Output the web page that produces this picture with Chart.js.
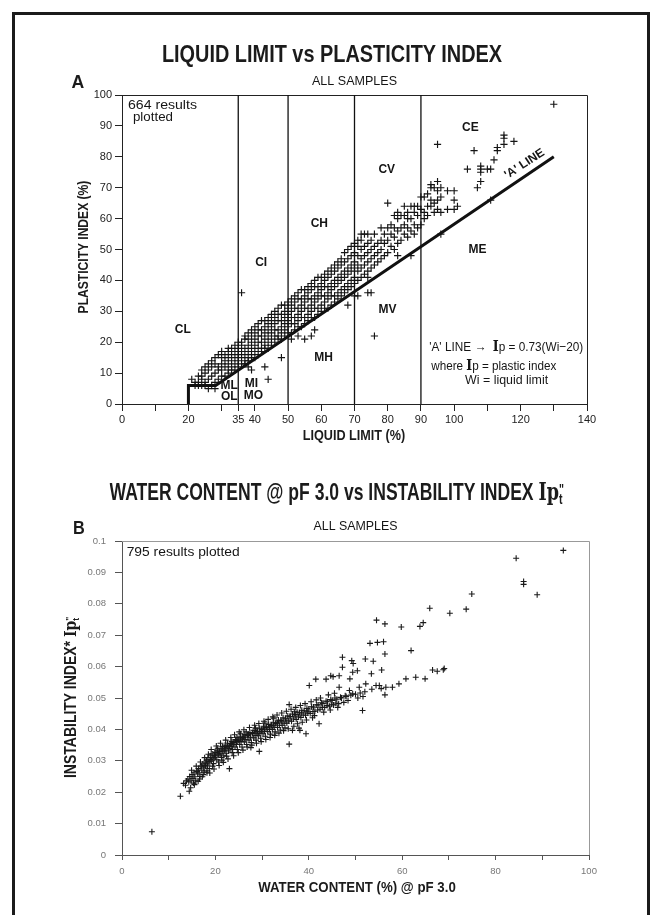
<!DOCTYPE html>
<html>
<head>
<meta charset="utf-8">
<script src="https://cdn.jsdelivr.net/npm/chart.js@4.4.1/dist/chart.umd.min.js"></script>
<style>
body { margin: 0; background: #fff; }
#page { position: relative; width: 655px; height: 915px; overflow: hidden; background: #fff; }
#frame { position: absolute; left: 12px; top: 12px; width: 632px; height: 940px; border: 3px solid #1b1b1b; border-bottom: none; }
canvas { position: absolute; left: 0; }
.t { position: absolute; left: 0; top: 0; white-space: nowrap; font-family: 'Liberation Sans', Arial, sans-serif; font-weight: bold; color: #1b1b1b; line-height: 1; }
.ser { font-family: 'DejaVu Serif', 'Liberation Serif', serif; }
.sup { display: inline-block; width: 0; position: relative; top: -0.45em; font-size: 0.6em; }
.sub { position: relative; top: 0.3em; font-size: 0.6em; }
</style>
</head>
<body>
<div id="page">
  <div id="frame"></div>
  <canvas id="chartA" width="655" height="460" style="top:0px"></canvas>
  <canvas id="chartB" width="655" height="455" style="top:460px"></canvas>
  <div class="t" id="titleA" style="font-size:24px">LIQUID LIMIT vs PLASTICITY INDEX</div>
  <div class="t" id="labA" style="font-size:19px">A</div>
  <div class="t" id="xTitleA" style="font-size:14px">LIQUID LIMIT (%)</div>
  <div class="t" id="yTitleA" style="font-size:15px">PLASTICITY INDEX (%)</div>
  <div class="t" id="titleB" style="font-size:24px">WATER CONTENT @ pF 3.0 vs INSTABILITY INDEX <span class="ser">Ip</span><span class="sup">"</span><span class="sub">t</span></div>
  <div class="t" id="labB" style="font-size:19px">B</div>
  <div class="t" id="xTitleB" style="font-size:15px">WATER CONTENT (%) @ pF 3.0</div>
  <div class="t" id="yTitleB" style="font-size:16px">INSTABILITY INDEX* <span class="ser">Ip</span><span class="sup">"</span><span class="sub">t</span></div>
</div>
<script>
// ---- chart A data : liquid limit (%) vs plasticity index (%)
const xTicksA = [0, 10, 20, 30, 35, 40, 50, 60, 70, 80, 90, 100, 110, 120, 130, 140];
const xTickLabelsA = ['0', '', '20', '', '35', '40', '50', '60', '70', '80', '90', '100', '', '120', '', '140'];
const yTicksA = [0, 10, 20, 30, 40, 50, 60, 70, 80, 90, 100];
const yTickLabelsA = ['0', '10', '20', '30', '40', '50', '60', '70', '80', '90', '100'];
// zone boundaries (liquid limit) and the 'A' line (Ip = 0.73(Wi-20)) with its foot at Wi=20
const zoneBoundsA = [35, 50, 70, 90];
const aLineLL = [20, 20, 28.2, 130];
const aLinePI = [0, 6, 6, 80];
// [liquid limit, plasticity index] for the plotted samples
const pointsA = [
  [21,8],[22,6],[22,7],[23,6],[23,7],[23,9],[24,6],[24,8],[24,9],[24,11],
  [25,6],[25,7],[25,10],[25,12],[26,5],[26,8],[26,11],[26,13],[27,6],[27,9],[27,12],[27,14],
  [28,5],[28,7],[28,10],[28,13],[28,15],[29,8],[29,11],[29,12],[29,16],
  [30,9],[30,11],[30,13],[30,15],[30,17],[31,9],[31,12],[31,14],[31,16],
  [32,10],[32,11],[32,13],[32,15],[32,17],[32,18],[33,11],[33,12],[33,14],[33,16],[33,18],
  [34,11],[34,13],[34,15],[34,17],[34,19],[35,12],[35,14],[35,16],[35,18],[35,20],
  [36,13],[36,15],[36,17],[36,19],[36,20],[36,36],[37,13],[37,14],[37,16],[37,18],[37,21],[37,22],
  [38,12],[38,14],[38,15],[38,17],[38,19],[38,21],[38,23],[39,11],[39,15],[39,16],[39,18],[39,20],[39,22],[39,24],
  [40,15],[40,17],[40,19],[40,21],[40,23],[40,25],[41,16],[41,18],[41,20],[41,22],[41,24],[41,26],
  [42,17],[42,18],[42,20],[42,22],[42,24],[42,27],[43,12],[43,18],[43,19],[43,21],[43,23],[43,25],[43,27],
  [44,8],[44,18],[44,20],[44,22],[44,24],[44,26],[44,28],[45,19],[45,21],[45,23],[45,25],[45,27],[45,29],
  [46,20],[46,22],[46,24],[46,26],[46,28],[46,30],[47,21],[47,22],[47,24],[47,27],[47,29],[47,31],
  [48,15],[48,21],[48,23],[48,25],[48,27],[48,29],[48,32],[49,22],[49,24],[49,26],[49,28],[49,30],[49,32],
  [50,23],[50,25],[50,27],[50,29],[50,31],[50,33],[51,21],[51,23],[51,26],[51,28],[51,30],[51,32],[51,34],
  [52,24],[52,26],[52,28],[52,31],[52,33],[52,35],[53,22],[53,25],[53,27],[53,29],[53,31],[53,34],[53,36],
  [54,25],[54,28],[54,30],[54,32],[54,34],[54,37],[55,21],[55,26],[55,28],[55,31],[55,33],[55,35],[55,37],
  [56,27],[56,29],[56,31],[56,34],[56,36],[56,38],[57,22],[57,28],[57,30],[57,32],[57,34],[57,37],[57,39],
  [58,24],[58,28],[58,31],[58,33],[58,35],[58,38],[58,40],[59,29],[59,31],[59,34],[59,36],[59,38],[59,41],
  [60,30],[60,32],[60,35],[60,37],[60,39],[60,41],[61,31],[61,33],[61,35],[61,38],[61,40],[61,42],
  [62,31],[62,34],[62,36],[62,38],[62,41],[62,43],[63,32],[63,35],[63,37],[63,39],[63,42],[63,44],
  [64,33],[64,35],[64,38],[64,40],[64,43],[64,45],[65,34],[65,36],[65,39],[65,41],[65,44],[65,46],
  [66,35],[66,37],[66,40],[66,42],[66,45],[66,47],[67,36],[67,38],[67,41],[67,43],[67,46],[67,49],
  [68,32],[68,37],[68,39],[68,42],[68,44],[68,47],[68,50],[69,38],[69,40],[69,43],[69,45],[69,48],[69,51],
  [70,35],[70,39],[70,41],[70,44],[70,46],[70,49],[70,52],[71,35],[71,40],[71,43],[71,45],[71,48],[71,51],[71,53],
  [72,41],[72,44],[72,47],[72,50],[72,53],[72,55],[73,42],[73,45],[73,48],[73,51],[73,55],
  [74,36],[74,41],[74,43],[74,46],[74,49],[74,52],[74,55],[75,36],[75,44],[75,47],[75,50],[75,53],
  [76,22],[76,45],[76,48],[76,51],[76,55],[77,46],[77,49],[77,52],[78,47],[78,50],[78,53],[78,57],
  [79,48],[79,52],[79,55],[80,49],[80,53],[80,57],[80,65],[81,51],[81,55],[81,58],
  [82,50],[82,54],[82,57],[82,61],[83,48],[83,52],[83,56],[83,60],[83,62],[84,53],[84,57],[84,61],
  [85,55],[85,58],[85,61],[85,64],[86,54],[86,57],[86,60],[86,62],[87,48],[87,56],[87,60],[87,64],
  [88,55],[88,58],[88,62],[88,64],[89,57],[89,61],[89,64],[90,58],[90,63],[90,67],[91,60],[91,62],[91,67],
  [92,61],[92,64],[92,68],[93,64],[93,66],[93,70],[93,71],[94,62],[94,65],[94,70],
  [95,63],[95,66],[95,69],[95,72],[95,84],[96,55],[96,62],[96,67],[96,70],[98,63],[98,69],
  [100,63],[100,66],[100,69],[101,64],[104,76],[106,82],[107,70],[108,72],[108,75],[108,76],[108,77],
  [110,76],[111,66],[111,76],[112,79],[113,82],[113,83],[115,84],[115,86],[115,87],[118,85],[130,97]
];

// ---- chart B data : water content (%) @ pF 3.0 vs instability index
const xTicksB = [0, 10, 20, 30, 40, 50, 60, 70, 80, 90, 100];
const xTickLabelsB = ['0', '', '20', '', '40', '', '60', '', '80', '', '100'];
const yTicksB = [0, 0.01, 0.02, 0.03, 0.04, 0.05, 0.06, 0.07, 0.08, 0.09, 0.1];
const yTickLabelsB = ['0', '0.01', '0.02', '0.03', '0.04', '0.05', '0.06', '0.07', '0.08', '0.09', '0.1'];
// [water content, instability index]
const pointsB = [
  [6.4,0.0074],[12.5,0.0187],[13.2,0.0228],[13.6,0.0222],[13.8,0.0236],
  [14.1,0.0242],[14.3,0.0233],[14.5,0.0250],[14.7,0.0214],[14.8,0.0238],[14.4,0.0203],
  [15.0,0.0256],[15.2,0.0244],[15.4,0.0262],[15.6,0.0249],[15.8,0.0236],[15.3,0.0229],
  [16.0,0.0268],[16.2,0.0258],[16.4,0.0275],[16.5,0.0262],[16.7,0.0250],[16.9,0.0281],[16.6,0.0242],
  [17.0,0.0284],[17.1,0.0270],[17.3,0.0290],[17.5,0.0277],[17.6,0.0264],[17.8,0.0296],[17.9,0.0283],[17.4,0.0256],
  [18.0,0.0292],[18.1,0.0302],[18.3,0.0286],[18.4,0.0310],[18.6,0.0296],[18.7,0.0275],[18.9,0.0304],[18.2,0.0268],
  [19.0,0.0316],[19.2,0.0300],[19.3,0.0322],[19.5,0.0309],[19.6,0.0291],[19.8,0.0318],[19.9,0.0328],[19.4,0.0283],
  [20.0,0.0312],[20.1,0.0326],[20.3,0.0303],[20.4,0.0334],[20.6,0.0318],[20.7,0.0296],[20.9,0.0330],[20.5,0.0340],
  [21.0,0.0322],[21.2,0.0338],[21.3,0.0311],[21.5,0.0345],[21.6,0.0329],[21.8,0.0316],[21.9,0.0341],[21.4,0.0302],
  [22.0,0.0334],[22.1,0.0350],[22.3,0.0324],[22.5,0.0343],[22.6,0.0356],[22.8,0.0331],[22.9,0.0346],[22.4,0.0315],
  [23.0,0.0275],[23.1,0.0339],[23.2,0.0355],[23.4,0.0346],[23.5,0.0362],[23.7,0.0336],[23.8,0.0352],[23.6,0.0326],
  [24.0,0.0358],[24.2,0.0344],[24.3,0.0368],[24.5,0.0352],[24.7,0.0336],[24.8,0.0362],[24.6,0.0374],
  [25.0,0.0366],[25.2,0.0352],[25.3,0.0378],[25.5,0.0361],[25.7,0.0344],[25.8,0.0372],[25.4,0.0386],
  [26.0,0.0374],[26.2,0.0360],[26.3,0.0384],[26.5,0.0368],[26.7,0.0352],[26.9,0.0380],[26.6,0.0392],
  [27.0,0.0381],[27.2,0.0366],[27.4,0.0390],[27.5,0.0375],[27.7,0.0358],[27.9,0.0387],[27.6,0.0342],
  [28.0,0.0388],[28.2,0.0373],[28.3,0.0397],[28.5,0.0381],[28.7,0.0366],[28.9,0.0393],[28.6,0.0404],
  [29.0,0.0394],[29.2,0.0380],[29.4,0.0404],[29.5,0.0388],[29.7,0.0372],[29.9,0.0399],[29.4,0.0330],
  [30.0,0.0400],[30.2,0.0386],[30.3,0.0410],[30.5,0.0394],[30.7,0.0378],[30.9,0.0406],[30.6,0.0420],
  [31.0,0.0407],[31.2,0.0393],[31.4,0.0416],[31.6,0.0400],[31.8,0.0385],[31.9,0.0412],
  [32.0,0.0414],[32.2,0.0400],[32.4,0.0423],[32.6,0.0407],[32.8,0.0392],[32.9,0.0419],[32.5,0.0436],
  [33.0,0.0421],[33.3,0.0406],[33.5,0.0430],[33.7,0.0413],[33.9,0.0398],
  [34.0,0.0428],[34.3,0.0413],[34.5,0.0437],[34.7,0.0420],[34.9,0.0405],
  [35.0,0.0434],[35.3,0.0420],[35.5,0.0443],[35.7,0.0427],[35.8,0.0353],[35.8,0.0479],
  [36.0,0.0441],[36.3,0.0426],[36.5,0.0449],[36.7,0.0433],[36.5,0.0397],[36.9,0.0456],
  [37.0,0.0447],[37.3,0.0432],[37.5,0.0455],[37.8,0.0440],[37.9,0.0404],
  [38.0,0.0453],[38.3,0.0438],[38.5,0.0461],[38.8,0.0446],[38.1,0.0397],
  [39.0,0.0459],[39.3,0.0445],[39.4,0.0386],[39.6,0.0467],[39.8,0.0452],
  [40.0,0.0465],[40.3,0.0451],[40.1,0.0540],[40.6,0.0472],[40.9,0.0457],
  [41.0,0.0471],[41.3,0.0458],[41.5,0.0560],[41.7,0.0478],[41.9,0.0462],
  [42.0,0.0478],[42.2,0.0418],[42.4,0.0464],[42.7,0.0485],[42.9,0.0470],
  [43.0,0.0483],[43.4,0.0470],[43.7,0.0560],[43.7,0.0490],[43.9,0.0476],
  [44.0,0.0488],[44.4,0.0474],[44.7,0.0571],[44.7,0.0495],[44.9,0.0480],
  [45.0,0.0492],[45.3,0.0478],[45.6,0.0500],[45.8,0.0484],[45.2,0.0568],
  [46.0,0.0496],[46.4,0.0482],[46.5,0.0534],[46.5,0.0571],[46.8,0.0502],
  [47.0,0.0500],[47.2,0.0630],[47.2,0.0598],[47.5,0.0486],[47.8,0.0507],
  [48.0,0.0505],[48.4,0.0492],[48.7,0.0524],[48.8,0.0561],
  [49.0,0.0509],[49.2,0.0619],[49.4,0.0582],[49.5,0.0610],[49.4,0.0513],
  [50.0,0.0512],[50.4,0.0587],[50.5,0.0500],[50.8,0.0534],
  [51.0,0.0516],[51.5,0.0460],[51.6,0.0505],[52.1,0.0624],[52.2,0.0545],[52.0,0.0520],
  [53.1,0.0674],[53.4,0.0577],[53.8,0.0617],[53.5,0.0528],[54.4,0.0540],[54.5,0.0748],[54.7,0.0677],
  [55.6,0.0589],[55.1,0.0540],[55.5,0.0530],[56.0,0.0679],[56.3,0.0736],[56.3,0.0640],[56.3,0.0510],[56.5,0.0534],
  [57.9,0.0534],[59.3,0.0545],[59.8,0.0726],[60.8,0.0561],[61.9,0.0651],[62.9,0.0566],[63.8,0.0728],
  [64.5,0.0740],[64.9,0.0561],[65.9,0.0786],[66.5,0.0589],[67.5,0.0585],[69.0,0.0594],[68.8,0.0590],
  [70.2,0.0770],[73.7,0.0783],[74.9,0.0831],[84.4,0.0945],[86.0,0.0871],[86.0,0.0862],[88.9,0.0829],[94.5,0.0970],
  // edges and middle of the dense band
  [14.9,0.0270],[15.5,0.0224],[15.9,0.0283],[16.3,0.0235],[16.8,0.0296],[17.2,0.0249],[17.7,0.0310],[18.2,0.0262],
  [18.5,0.0321],[18.8,0.0261],[19.1,0.0336],[19.7,0.0274],[20.2,0.0347],[20.8,0.0285],[21.1,0.0356],[21.7,0.0295],
  [22.2,0.0366],[22.7,0.0306],[23.3,0.0374],[23.9,0.0316],[24.1,0.0383],[24.9,0.0326],[25.1,0.0392],[25.9,0.0334],
  [26.1,0.0399],[26.8,0.0344],[27.3,0.0406],[27.8,0.0350],[28.4,0.0413],[28.8,0.0356],[29.3,0.0419],[29.8,0.0361],
  [30.4,0.0426],[30.8,0.0368],[31.3,0.0432],[31.7,0.0374],[32.3,0.0440],[32.7,0.0381],[33.2,0.0446],[33.6,0.0388],
  [34.2,0.0452],[34.6,0.0396],[35.2,0.0458],[35.6,0.0402],[36.2,0.0464],[36.8,0.0410],[37.2,0.0470],[37.6,0.0418],
  [38.2,0.0476],[38.6,0.0423],[39.2,0.0482],[39.5,0.0430],[40.5,0.0488],[40.8,0.0437],[41.6,0.0494],[41.2,0.0444],
  [42.5,0.0500],[43.2,0.0455],[44.2,0.0510],[44.6,0.0462],[45.5,0.0515],[46.2,0.0470],
  [16.1,0.0266],[17.6,0.0285],[18.8,0.0298],[19.7,0.0310],[20.6,0.0322],[21.4,0.0331],[22.2,0.0340],[23.0,0.0348],
  [23.8,0.0357],[24.6,0.0364],[25.4,0.0369],[26.3,0.0376],[27.1,0.0384],[28.0,0.0390],[28.9,0.0386],[29.8,0.0393],
  [30.6,0.0401],[31.5,0.0408],[32.4,0.0413],[33.3,0.0420],[34.2,0.0426],[35.1,0.0433],[36.0,0.0440],[37.1,0.0446],
  [38.4,0.0452],[39.6,0.0458]
];

const FONT = "'Liberation Sans', Arial, Helvetica, sans-serif";
const SERIF = "'DejaVu Serif', 'Liberation Serif', serif";

// notes written inside the plots (positions in data units)
const notesA = [
  { t: 'ALL SAMPLES', x: 70, y: 104.3, size: 12.5, w: 85 },
  { t: '664 results', x: 1.8, y: 96.5, size: 13, w: 69, align: 'left' },
  { t: 'plotted', x: 3.3, y: 92.7, size: 13, w: 40, align: 'left' },
  { t: 'CL', x: 18.3, y: 24.2, size: 12, bold: true },
  { t: 'CI', x: 41.9, y: 45.6, size: 12, bold: true },
  { t: 'CH', x: 59.4, y: 58.2, size: 12, bold: true },
  { t: 'CV', x: 79.7, y: 75.8, size: 12, bold: true },
  { t: 'CE', x: 104.9, y: 89.5, size: 12, bold: true },
  { t: 'ME', x: 107, y: 50.1, size: 12, bold: true },
  { t: 'MV', x: 79.9, y: 30.4, size: 12, bold: true },
  { t: 'MH', x: 60.7, y: 15.1, size: 12, bold: true },
  { t: 'ML', x: 32.3, y: 5.8, size: 12, bold: true },
  { t: 'OL', x: 32.3, y: 2.4, size: 12, bold: true },
  { t: 'MI', x: 39, y: 6.5, size: 12, bold: true },
  { t: 'MO', x: 39.6, y: 2.6, size: 12, bold: true },
  { t: "'A' LINE", x: 121.2, y: 77.7, size: 12, bold: true, rot: -33 },
  { runs: [["'A' LINE \u2192  ", 's'], ['I', 'r'], ['p = 0.73(Wi\u221220)', 's']], x: 92.5, y: 18.2, size: 13, w: 154, align: 'left' },
  { runs: [['where ', 's'], ['I', 'r'], ['p = plastic index', 's']], x: 93.1, y: 12.3, size: 13, w: 125, align: 'left' },
  { t: 'Wi = liquid limit', x: 103.3, y: 7.5, size: 13, w: 83, align: 'left' }
];
const notesB = [
  { t: 'ALL SAMPLES', x: 50, y: 0.1045, size: 12.5, w: 84 },
  { t: '795 results plotted', x: 1.0, y: 0.0965, size: 13, w: 113, align: 'left' }
];

function drawNote(ctx, n, px, py) {
  const runs = n.runs || [[n.t, 's']];
  const fontFor = f => f === 'r' ? 'bold ' + (n.size + 1) + 'px ' + SERIF : (n.bold ? 'bold ' : '') + n.size + 'px ' + FONT;
  let total = 0;
  runs.forEach(r => { ctx.font = fontFor(r[1]); total += ctx.measureText(r[0]).width; });
  const sx = n.w ? n.w / total : 1;
  ctx.save();
  ctx.translate(px, py);
  if (n.rot) ctx.rotate(n.rot * Math.PI / 180);
  ctx.scale(sx, 1);
  ctx.textBaseline = 'middle';
  ctx.textAlign = 'left';
  let x0 = n.align === 'left' ? 0 : -total / 2;
  runs.forEach(r => {
    ctx.font = fontFor(r[1]);
    ctx.fillText(r[0], x0, 0);
    x0 += ctx.measureText(r[0]).width;
  });
  ctx.restore();
}

const notesPlugin = {
  id: 'notes',
  afterDraw(chart, args, opts) {
    const ctx = chart.ctx;
    ctx.save();
    ctx.fillStyle = '#151515';
    opts.items.forEach(n => drawNote(ctx, n, chart.scales.x.getPixelForValue(n.x), chart.scales.y.getPixelForValue(n.y)));
    ctx.restore();
  }
};

// top and right edges of the plot box
const framePlugin = {
  id: 'frame',
  beforeDatasetsDraw(chart, args, opts) {
    const a = chart.chartArea, ctx = chart.ctx;
    ctx.save();
    ctx.strokeStyle = opts.color;
    ctx.lineWidth = 1;
    ctx.beginPath();
    ctx.moveTo(a.left, a.top + 0.5);
    ctx.lineTo(a.right + 0.5, a.top + 0.5);
    ctx.lineTo(a.right + 0.5, a.bottom);
    ctx.stroke();
    ctx.restore();
  }
};

function axis(min, max, ticks, labels, size, opt) {
  return {
    type: 'linear', min: min, max: max,
    afterFit: s => { if (opt.w) s.width = opt.w; if (opt.h) s.height = opt.h; },
    afterBuildTicks: s => { s.ticks = ticks.map(v => ({ value: v })); },
    ticks: { autoSkip: false, maxRotation: 0, padding: opt.pad, color: opt.tc, font: { family: FONT, size: size },
             callback: (v, i) => labels[i] },
    grid: { drawOnChartArea: false, tickLength: opt.tl, color: opt.ac, lineWidth: 1 },
    border: { color: opt.ac, width: 1 }
  };
}

const baseOpts = { responsive: false, animation: false, events: [] };

new Chart(document.getElementById('chartA'), {
  type: 'scatter',
  data: {
    datasets: [
      { data: aLineLL.map((v, i) => ({ x: v, y: aLinePI[i] })), showLine: true, borderColor: '#111', borderWidth: 3,
        borderJoinStyle: 'miter', pointRadius: 0 },
      ...zoneBoundsA.map(b => ({ data: [{ x: b, y: 0 }, { x: b, y: 100 }], showLine: true, borderColor: '#111',
        borderWidth: 1.3, pointRadius: 0 })),
      { data: pointsA.map(p => ({ x: p[0], y: p[1] })), pointStyle: 'cross', pointRadius: 3.6,
        pointBorderColor: '#151515', pointBorderWidth: 1.15 }
    ]
  },
  options: Object.assign({}, baseOpts, {
    layout: { padding: { top: 95, left: 62, right: 68, bottom: 26 } },
    plugins: { legend: { display: false }, tooltip: { enabled: false },
               frame: { color: '#222' }, notes: { items: notesA } },
    scales: {
      x: axis(0, 140, xTicksA, xTickLabelsA, 11, { h: 30, pad: 2, tl: 7, tc: '#222', ac: '#222' }),
      y: axis(0, 100, yTicksA, yTickLabelsA, 11, { w: 60, pad: 3, tl: 7, tc: '#222', ac: '#222' })
    }
  }),
  plugins: [framePlugin, notesPlugin]
});

new Chart(document.getElementById('chartB'), {
  type: 'scatter',
  data: {
    datasets: [
      { data: pointsB.map(p => ({ x: p[0], y: p[1] })), pointStyle: 'cross', pointRadius: 3,
        pointBorderColor: '#1a1a1a', pointBorderWidth: 1.1 }
    ]
  },
  options: Object.assign({}, baseOpts, {
    layout: { padding: { top: 81, left: 62, right: 66, bottom: 30 } },
    plugins: { legend: { display: false }, tooltip: { enabled: false },
               frame: { color: '#999' }, notes: { items: notesB } },
    scales: {
      x: axis(0, 100, xTicksB, xTickLabelsB, 9.5, { h: 30, pad: 6, tl: 5, tc: '#777', ac: '#555' }),
      y: axis(0, 0.1, yTicksB, yTickLabelsB, 9.5, { w: 60, pad: 9, tl: 7, tc: '#777', ac: '#555' })
    }
  }),
  plugins: [framePlugin, notesPlugin]
});

// page titles: centre on (cx, cy) and squeeze to the measured width
function place(id, cx, cy, w, vertical) {
  const el = document.getElementById(id);
  const s = w / el.offsetWidth;
  el.style.left = cx + 'px';
  el.style.top = cy + 'px';
  el.style.transform = 'translate(-50%,-50%)' + (vertical ? ' rotate(-90deg)' : '') + ' scaleX(' + s + ')';
}
place('titleA', 332, 54, 340);
place('labA', 78, 81, 13);
place('xTitleA', 354, 435, 103);
place('yTitleA', 82, 247, 133, true);
place('titleB', 336, 492, 453);
place('labB', 79, 527, 12);
place('xTitleB', 357, 886, 198);
place('yTitleB', 71, 698, 160, true);
</script>
</body>
</html>
